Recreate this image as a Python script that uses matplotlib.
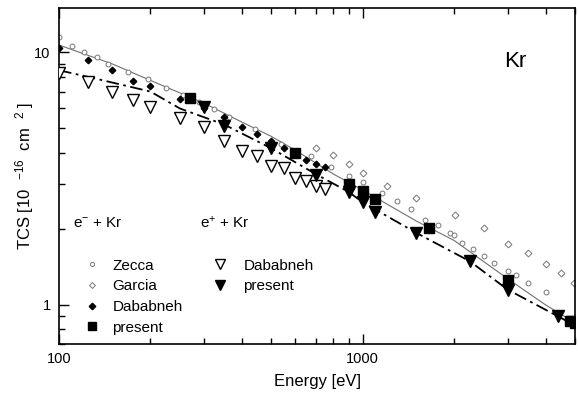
import numpy as np
import matplotlib
matplotlib.use('Agg')
import matplotlib.pyplot as plt
from matplotlib.lines import Line2D

plt.rcParams['font.family'] = ['Liberation Sans', 'DejaVu Sans']
plt.rcParams['mathtext.fontset'] = 'custom'
plt.rcParams['mathtext.rm'] = 'Liberation Sans'
plt.rcParams['mathtext.it'] = 'Liberation Sans:italic'

# electron data
zecca_E = [100, 110, 121, 133, 145, 169, 196, 225, 256, 289, 324, 362, 442, 537,
           677, 785, 902, 1000, 1155, 1294, 1442, 1603, 1765, 1933, 1997, 2117,
           2307, 2500, 2698, 3006, 3203, 3497, 4000]
zecca_tcs = [11.5, 10.6, 10.07, 9.6, 9.03, 8.37, 7.83, 7.26, 6.77, 6.35, 5.96, 5.57, 4.96, 4.33,
             3.89, 3.52, 3.25, 3.08, 2.77, 2.57, 2.40, 2.17, 2.07, 1.92, 1.90, 1.76,
             1.67, 1.56, 1.46, 1.36, 1.31, 1.22, 1.12]
garcia_E = [700, 801, 902, 1000, 1204, 1503, 2008, 2500, 3006, 3500, 4000, 4505, 4980]
garcia_tcs = [4.17, 3.91, 3.63, 3.32, 2.96, 2.64, 2.28, 2.02, 1.74, 1.60, 1.45, 1.34, 1.22]
dab_e_E = [100, 125, 150, 175, 200, 250, 300, 350, 400, 450, 500, 550, 650, 700, 750]
dab_e_tcs = [10.4, 9.34, 8.50, 7.73, 7.37, 6.53, 6.05, 5.54, 5.05, 4.74, 4.46, 4.17, 3.75, 3.61, 3.51]
pres_e_E = [270, 600, 900, 1000, 1100, 1650, 3000, 4800, 5000]
pres_e_tcs = [6.62, 4.01, 3.01, 2.83, 2.63, 2.02, 1.25, 0.86, 0.845]

# positron data
dab_p_E = [100, 125, 150, 175, 200, 250, 300, 350, 400, 450, 500, 550, 600, 650, 700, 750]
dab_p_tcs = [8.32, 7.66, 7.0, 6.47, 6.07, 5.52, 5.06, 4.47, 4.07, 3.89, 3.56, 3.48, 3.18, 3.11, 2.97, 2.87]
pres_p_E = [300, 350, 500, 700, 900, 1000, 1100, 1500, 2250, 3000, 4400, 4900]
pres_p_tcs = [6.1, 5.12, 4.17, 3.27, 2.80, 2.55, 2.33, 1.93, 1.49, 1.15, 0.905, 0.855]

# fitted curves
fit_e_E = [100, 150, 200, 300, 400, 500, 600, 700, 800, 1000, 1500, 2000, 3000, 4000, 5000]
fit_e_tcs = [10.7, 9.0, 7.75, 6.3, 5.3, 4.65, 4.1, 3.65, 3.3, 2.85, 2.15, 1.8, 1.27, 1.0, 0.85]
fit_p_E = [100, 125, 200, 250, 350, 500, 700, 900, 1000, 1500, 2250, 3000, 4400, 5000]
fit_p_tcs = [8.5, 8.0, 7.0, 6.0, 5.18, 4.17, 3.3, 2.8, 2.55, 1.93, 1.49, 1.15, 0.9, 0.83]

fig = plt.figure(figsize=(5.78, 3.96), dpi=100)
ax = fig.add_axes([59/578, 1-344/396, 516/578, 336/396])

ax.plot(fit_e_E, fit_e_tcs, '-', color='#707070', lw=0.8, zorder=1)
ax.plot(fit_p_E, fit_p_tcs, color='black', lw=1.3, dashes=(7, 2.5, 1.5, 2.5), zorder=1)

ax.plot(zecca_E, zecca_tcs, 'o', ms=3.5, mfc='white', mec='#777777', mew=0.7, ls='none', zorder=2)
ax.plot(garcia_E, garcia_tcs, 'D', ms=3.5, mfc='white', mec='#777777', mew=0.7, ls='none', zorder=2)
ax.plot(dab_e_E, dab_e_tcs, 'D', ms=3.3, color='black', ls='none', zorder=3)
ax.plot(pres_e_E, pres_e_tcs, 's', ms=6.5, color='black', ls='none', zorder=4)
ax.plot(dab_p_E, dab_p_tcs, 'v', ms=8, mfc='white', mec='black', mew=1.0, ls='none', zorder=3)
ax.plot(pres_p_E, pres_p_tcs, 'v', ms=8, color='black', ls='none', zorder=4)

ax.set_xscale('log')
ax.set_yscale('log')
ax.set_xlim(100, 5000)
ax.set_ylim(0.7, 15)
ax.set_xticks([100, 1000])
ax.set_xticklabels(['100', '1000'])
ax.set_yticks([1, 10])
ax.set_yticklabels(['1', '10'])
ax.tick_params(which='both', direction='in', top=True, right=False, labelsize=10.5, width=1.0)
ax.tick_params(which='major', length=7, pad=6)
ax.tick_params(which='minor', length=4)
for s in ax.spines.values():
    s.set_linewidth(1.2)

ax.set_xlabel('Energy [eV]', fontsize=12)
ax.xaxis.set_label_coords(0.5, -0.09)
ax.set_ylabel(r'TCS [10  $\mathregular{^{-16}}$  cm  $\mathregular{^{2}}$ ]', fontsize=12)
ax.yaxis.set_label_coords(-0.045, 0.5)

ax.text(0.885, 0.84, 'Kr', transform=ax.transAxes, fontsize=16, ha='center', va='center')
ax.text(0.027, 0.36, r'e$\mathregular{^{-}}$ + Kr', transform=ax.transAxes, fontsize=11, va='center')
ax.text(0.273, 0.36, r'e$\mathregular{^{+}}$ + Kr', transform=ax.transAxes, fontsize=11, va='center')

h_left = [
    Line2D([], [], marker='o', ms=3, mfc='white', mec='#777777', mew=0.7, ls='none'),
    Line2D([], [], marker='D', ms=3, mfc='white', mec='#777777', mew=0.7, ls='none'),
    Line2D([], [], marker='D', ms=3.3, color='black', ls='none'),
    Line2D([], [], marker='s', ms=6, color='black', ls='none'),
]
leg1 = ax.legend(h_left, ['Zecca', 'Garcia', 'Dababneh', 'present'], loc='upper left',
                 bbox_to_anchor=(0.040, 0.268), frameon=False, fontsize=11,
                 handlelength=1.0, handletextpad=0.85, labelspacing=0.44,
                 borderpad=0.3, borderaxespad=0)
ax.add_artist(leg1)
h_right = [
    Line2D([], [], marker='v', ms=7, mfc='white', mec='black', mew=1.0, ls='none'),
    Line2D([], [], marker='v', ms=7, color='black', ls='none'),
]
ax.legend(h_right, ['Dababneh', 'present'], loc='upper left',
          bbox_to_anchor=(0.288, 0.268), frameon=False, fontsize=11,
          handlelength=1.0, handletextpad=1.05, labelspacing=0.44,
          borderpad=0.3, borderaxespad=0)

fig.savefig('out.png', dpi=100)
